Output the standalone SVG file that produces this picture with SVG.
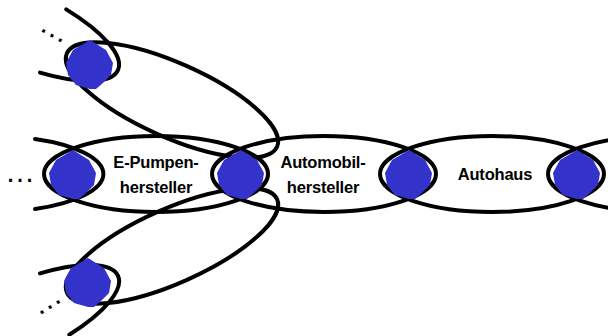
<svg xmlns="http://www.w3.org/2000/svg" xmlns:xlink="http://www.w3.org/1999/xlink" width="608" height="336" viewBox="0 0 608 336">
<style>
.edge{fill:none;stroke:#000;stroke-width:4;stroke-linecap:round}
.blob{fill:#3333CC;stroke:none}
.lbl{font-family:"Liberation Sans",Arial,sans-serif;font-weight:bold;font-size:16.5px;fill:#000;text-anchor:middle;letter-spacing:-0.2px}
.dots{font-family:"Liberation Sans",Arial,sans-serif;font-size:30px;fill:#000}
</style>
<defs>
<path id="b" d="M0,-24 L16,-14 L23,-1 L21,11 L13,19 L6,25 L0,25 L-14,21 L-22,11 L-24,-1 L-17,-14 Z"/>
</defs>
<rect width="608" height="336" fill="#fff"/>
<g id="connectors">
<path class="edge" d="M35,139 A112,38 0 0 1 35,209"/>
<path class="edge" d="M66.2,9.4 A115,37 24 0 1 40,72.6"/>
<path class="edge" d="M40,273.4 A115,37 -24 0 1 69.3,334.7"/>
<ellipse class="edge" cx="660" cy="174" rx="112" ry="38"/>
<ellipse class="edge" cx="172" cy="100" rx="115" ry="37" transform="rotate(24 172 100)"/>
<ellipse class="edge" cx="172" cy="246" rx="115" ry="37" transform="rotate(-24 172 246)"/>
</g>
<g id="e-pumpenhersteller">
<ellipse class="edge" cx="156" cy="174" rx="112" ry="38"/>
<text class="lbl" x="156" y="168">E-Pumpen-</text>
<text class="lbl" x="156" y="193">hersteller</text>
</g>
<g id="automobilhersteller">
<ellipse class="edge" cx="324" cy="174" rx="112" ry="38"/>
<text class="lbl" x="323" y="168">Automobil-</text>
<text class="lbl" x="323" y="193">hersteller</text>
</g>
<g id="autohaus">
<ellipse class="edge" cx="492" cy="174" rx="112" ry="38"/>
<text class="lbl" x="495" y="180">Autohaus</text>
</g>
<g id="node-left"><use xlink:href="#b" class="blob" x="73" y="174"/></g>
<g id="node-epumpen-auto"><use xlink:href="#b" class="blob" x="241" y="174"/></g>
<g id="node-auto-haus"><use xlink:href="#b" class="blob" x="409" y="174"/></g>
<g id="node-right"><use xlink:href="#b" class="blob" x="577" y="174"/></g>
<g id="node-upper"><use xlink:href="#b" class="blob" x="90" y="64"/></g>
<g id="node-lower"><use xlink:href="#b" class="blob" x="88" y="282"/></g>
<g id="dots">
<text class="dots" x="5" y="181.5">…</text>
<text class="dots" x="37" y="32" transform="rotate(29 42 33)">…</text>
<text class="dots" x="37" y="314" transform="rotate(-32 42 313)">…</text>
</g>
</svg>
